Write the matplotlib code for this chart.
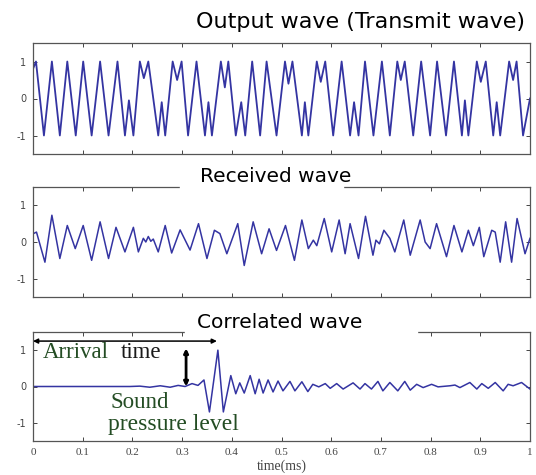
import matplotlib.pyplot as plt
from matplotlib.patches import Rectangle

# time axis in ms (extrema of each wave)
out_t = [0.000, 0.006, 0.022, 0.038, 0.054, 0.069, 0.086, 0.101, 0.118, 0.135,
         0.152, 0.170, 0.185, 0.193, 0.202, 0.215, 0.223, 0.232, 0.252, 0.259,
         0.266, 0.281, 0.290, 0.299, 0.312, 0.329, 0.346, 0.353, 0.360, 0.378,
         0.386, 0.393, 0.408, 0.419, 0.427, 0.441, 0.457, 0.470, 0.490, 0.507,
         0.514, 0.522, 0.541, 0.547, 0.554, 0.571, 0.579, 0.588, 0.604, 0.621,
         0.638, 0.646, 0.655, 0.668, 0.685, 0.702, 0.718, 0.733, 0.740, 0.748,
         0.765, 0.781, 0.799, 0.813, 0.831, 0.847, 0.863, 0.869, 0.876, 0.893,
         0.901, 0.911, 0.926, 0.933, 0.940, 0.958, 0.966, 0.973, 0.986, 1.000]
out_v = [0.8, 1.0, -1.0, 1.0, -1.0, 1.0, -1.0, 1.0, -1.0, 1.0,
         -1.0, 1.0, -1.0, -0.05, -1.0, 1.0, 0.55, 1.0, -1.0, -0.1,
         -1.0, 1.0, 0.5, 1.0, -1.0, 1.0, -1.0, -0.1, -1.0, 1.0,
         0.3, 1.0, -1.0, -0.1, -1.0, 1.0, -1.0, 1.0, -1.0, 1.0,
         0.4, 1.0, -1.0, -0.1, -1.0, 1.0, 0.45, 1.0, -1.0, 1.0,
         -1.0, -0.1, -1.0, 1.0, -1.0, 1.0, -1.0, 1.0, 0.5, 1.0,
         -1.0, 1.0, -1.0, 1.0, -1.0, 1.0, -1.0, -0.05, -1.0, 1.0,
         0.45, 1.0, -1.0, -0.1, -1.0, 1.0, 0.5, 1.0, -1.0, 0.0]

rec_t = [0.001, 0.007, 0.024, 0.038, 0.054, 0.069, 0.085, 0.101, 0.118, 0.135,
         0.152, 0.167, 0.185, 0.202, 0.212, 0.222, 0.227, 0.232, 0.237, 0.242,
         0.252, 0.266, 0.279, 0.296, 0.316, 0.333, 0.350, 0.365, 0.376, 0.390,
         0.412, 0.425, 0.443, 0.460, 0.475, 0.490, 0.508, 0.526, 0.541, 0.554,
         0.564, 0.571, 0.586, 0.601, 0.616, 0.628, 0.638, 0.655, 0.669, 0.684,
         0.690, 0.697, 0.706, 0.718, 0.728, 0.746, 0.759, 0.779, 0.789, 0.799,
         0.812, 0.832, 0.847, 0.863, 0.876, 0.886, 0.898, 0.907, 0.923, 0.930,
         0.940, 0.951, 0.963, 0.974, 0.990, 1.000]
rec_v = [0.23, 0.27, -0.55, 0.73, -0.45, 0.45, -0.18, 0.45, -0.5, 0.55,
         -0.45, 0.4, -0.27, 0.4, -0.27, 0.1, 0.0, 0.15, 0.02, 0.08,
         -0.27, 0.45, -0.3, 0.33, -0.22, 0.5, -0.45, 0.32, 0.23, -0.32,
         0.5, -0.64, 0.55, -0.32, 0.36, -0.23, 0.45, -0.5, 0.6, -0.18,
         0.05, -0.1, 0.64, -0.27, 0.6, -0.32, 0.5, -0.45, 0.7, -0.36,
         0.05, -0.05, 0.32, 0.1, -0.27, 0.6, -0.36, 0.6, 0.0, -0.18,
         0.5, -0.4, 0.45, -0.27, 0.32, -0.1, 0.4, -0.4, 0.32, 0.27,
         -0.55, 0.55, -0.55, 0.64, -0.32, 0.1]

cor_t = [0.000, 0.195, 0.215, 0.235, 0.256, 0.276, 0.292, 0.306, 0.320, 0.332,
         0.344, 0.355, 0.372, 0.383, 0.398, 0.408, 0.416, 0.425, 0.437, 0.447,
         0.455, 0.463, 0.473, 0.483, 0.493, 0.503, 0.517, 0.527, 0.541, 0.553,
         0.563, 0.575, 0.588, 0.598, 0.611, 0.624, 0.644, 0.658, 0.668, 0.681,
         0.694, 0.704, 0.718, 0.734, 0.748, 0.759, 0.772, 0.785, 0.802, 0.815,
         0.839, 0.849, 0.859, 0.879, 0.893, 0.903, 0.916, 0.930, 0.946, 0.956,
         0.966, 0.983, 1.000]
cor_v = [0.0, 0.0, 0.01, -0.02, 0.02, -0.02, 0.03, 0.0, 0.08, 0.03,
         0.18, -0.7, 1.0, -0.7, 0.3, -0.2, 0.1, -0.18, 0.3, -0.2,
         0.2, -0.18, 0.18, -0.15, 0.15, -0.12, 0.14, -0.12, 0.13, -0.14,
         0.06, -0.01, 0.08, -0.05, 0.08, -0.07, 0.1, -0.07, 0.08, -0.07,
         0.14, -0.12, 0.11, -0.12, 0.14, -0.1, 0.06, -0.03, 0.06, -0.01,
         0.02, 0.04, -0.03, 0.11, -0.07, 0.08, -0.05, 0.11, -0.12, 0.06,
         0.02, 0.11, -0.07]

xticks = [0, 0.1, 0.2, 0.3, 0.4, 0.5, 0.6, 0.7, 0.8, 0.9, 1]
xtick_labels = ['0', '0.1', '0.2', '0.3', '0.4', '0.5', '0.6', '0.7', '0.8', '0.9', '1']
yticks = [-1, 0, 1]

W, H = 536, 475
line_color = '#3434a2'
green = '#244d24'

fig = plt.figure(figsize=(W / 100, H / 100), dpi=100)

# axes boxes in pixels: left, top, right, bottom
boxes = [(33, 43, 530, 154), (33, 187, 530, 297), (33, 332, 530, 441)]
axes = []
for (l, t, r, b) in boxes:
    ax = fig.add_axes([l / W, 1 - b / H, (r - l) / W, (b - t) / H])
    ax.set_xlim(0, 1)
    ax.set_ylim(-1.5, 1.5)
    ax.set_xticks(xticks)
    ax.set_yticks(yticks)
    ax.set_yticklabels(['-1', '0', '1'])
    ax.tick_params(direction='in', top=True, right=True, length=3, width=0.7,
                   labelsize=7, colors='#444444', pad=5)
    for s in ax.spines.values():
        s.set_color('#555555')
        s.set_linewidth(0.9)
    axes.append(ax)

ax1, ax2, ax3 = axes
ax1.set_xticklabels([])
ax2.set_xticklabels([])
ax3.set_xticklabels(xtick_labels, family='Liberation Serif', fontsize=8)

ax1.plot(out_t, out_v, color=line_color, lw=1.3, solid_joinstyle='round')
ax2.plot(rec_t, rec_v, color=line_color, lw=1.1, solid_joinstyle='round')
ax3.plot(cor_t, cor_v, color=line_color, lw=1.1, solid_joinstyle='round')

ax3.set_xlabel('time(ms)', family='Liberation Serif', fontsize=10,
               color='#444444', labelpad=2)

# titles, the lower two sit on a white patch that hides the top frame
fig.add_artist(Rectangle((180 / W, 1 - 192 / H), 163 / W, 10 / H,
                         transform=fig.transFigure, color='white', zorder=5))
fig.add_artist(Rectangle((185 / W, 1 - 337 / H), 232 / W, 10 / H,
                         transform=fig.transFigure, color='white', zorder=5))
fig.text(361 / W, 1 - 22 / H, 'Output wave (Transmit wave)', ha='center',
         va='center', fontsize=16, zorder=6)
fig.text(276 / W, 1 - 176 / H, 'Received wave', ha='center', va='center',
         fontsize=14.5, zorder=6)
fig.text(280 / W, 1 - 322 / H, 'Correlated wave', ha='center', va='center',
         fontsize=14.5, zorder=6)

# annotations on the correlated wave
ax3.annotate('', xy=(0.0, 1.25), xytext=(0.37, 1.25),
             arrowprops=dict(arrowstyle='<|-|>', color='black', lw=1.1,
                             mutation_scale=7, shrinkA=0, shrinkB=0))
ax3.annotate('', xy=(0.308, 1.05), xytext=(0.308, 0.0),
             arrowprops=dict(arrowstyle='<|-|>', color='black', lw=2,
                             mutation_scale=6, shrinkA=0, shrinkB=0))
ax3.text(0.02, 0.78, 'Arrival', family='Liberation Serif', fontsize=16.5,
         color=green, va='baseline')
ax3.text(0.177, 0.78, 'time', family='Liberation Serif', fontsize=16.5,
         color='#1a1a1a', va='baseline')
ax3.text(0.155, -0.58, 'Sound', family='Liberation Serif', fontsize=16.5,
         color=green, va='baseline')
ax3.text(0.151, -1.2, 'pressure level', family='Liberation Serif', fontsize=17,
         color=green, va='baseline')

fig.savefig('out.png', dpi=100)
